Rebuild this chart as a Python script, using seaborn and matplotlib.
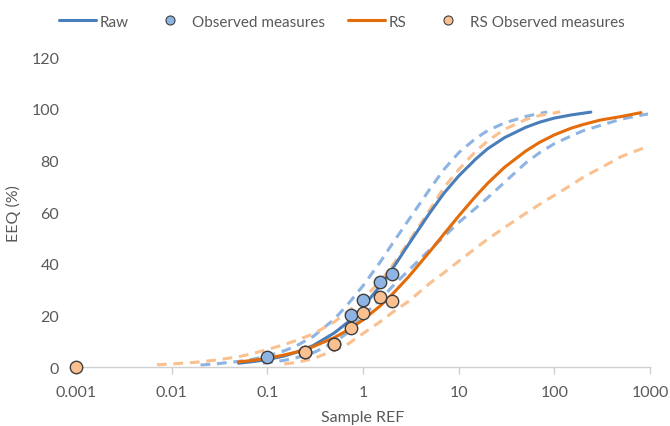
import numpy as np
import pandas as pd
import matplotlib
matplotlib.use("Agg")
import matplotlib.pyplot as plt
from matplotlib import font_manager
from matplotlib.lines import Line2D
import seaborn as sns

# ---------------- data ----------------
raw_x = [0.05, 0.07, 0.1, 0.15, 0.2, 0.3, 0.5, 0.7, 1, 1.5, 2, 3, 5, 7, 10, 15, 20, 30, 50, 70, 100, 150, 240]
raw_y = [1.5, 2.1, 2.9, 4.3, 5.7, 8.3, 13.2, 17.5, 23.3, 31.3, 37.7, 47.6, 59.8, 67.3, 74.0, 80.5, 84.5, 88.8, 92.8, 94.8, 96.4, 97.6, 98.7]

raw_up_x = [0.02, 0.03, 0.05, 0.07, 0.1, 0.15, 0.2, 0.3, 0.5, 0.7, 1, 1.5, 2, 3, 5, 7, 10, 15, 20, 30, 50, 70, 84]
raw_up_y = [0.8, 1.3, 2.2, 3.0, 4.3, 6.3, 8.2, 11.8, 18.5, 24.5, 31.5, 40.5, 47.5, 57, 69, 76.5, 83, 88.5, 91.5, 94.5, 97, 98.2, 98.7]

raw_lo_x = [0.09, 0.15, 0.2, 0.3, 0.5, 0.7, 1, 1.5, 2, 3, 5, 7, 10, 15, 20, 30, 50, 70, 100, 150, 200, 300, 500, 950]
raw_lo_y = [1.5, 2.6, 3.6, 5.5, 9.5, 13.5, 20, 26, 31, 37.5, 45.5, 50.5, 56, 61.5, 65.5, 71.5, 79, 83, 86.5, 89.5, 91.5, 93.5, 96, 98]

rs_x = [0.05, 0.07, 0.1, 0.15, 0.2, 0.3, 0.5, 0.7, 1, 1.5, 2, 3, 5, 7, 10, 15, 20, 30, 50, 70, 100, 150, 200, 300, 500, 800]
rs_y = [2.0, 2.6, 3.4, 4.7, 5.8, 7.9, 11.4, 14.4, 18.3, 23.6, 28.0, 35.0, 44.8, 51.5, 58.5, 66.1, 71.1, 77.3, 83.6, 87.0, 89.9, 92.5, 93.9, 95.6, 97.0, 98.5]

rs_up_x = [0.007, 0.01, 0.02, 0.03, 0.05, 0.07, 0.1, 0.15, 0.2, 0.3, 0.5, 0.7, 1, 1.5, 2, 3, 5, 7, 10, 15, 20, 30, 50, 70, 115]
rs_up_y = [0.9, 1.2, 2.0, 2.8, 4.0, 5.2, 6.8, 8.7, 10.3, 12.8, 17.5, 21.5, 26.5, 33, 39, 48.5, 61, 69.5, 76.5, 83.5, 87.5, 92, 95.8, 97.4, 98.8]

rs_lo_x = [0.15, 0.2, 0.3, 0.5, 0.7, 1, 1.5, 2, 3, 5, 7, 10, 15, 20, 30, 50, 70, 100, 150, 200, 300, 500, 880]
rs_lo_y = [1.2, 1.8, 3.2, 6.5, 9, 13, 17.5, 21, 25.5, 32.5, 36.5, 41, 46, 49.5, 54, 59.5, 63, 66.5, 70.5, 73.5, 77, 81.5, 85]

obs_x = [0.1, 0.25, 0.5, 0.75, 1, 1.5, 2]
obs_y = [4, 6, 9, 20, 26, 33, 36]

rs_obs_x = [0.001, 0.25, 0.5, 0.75, 1, 1.5, 2]
rs_obs_y = [0, 6, 9, 15, 21, 27, 25.5]

x_ticks = [0.001, 0.01, 0.1, 1, 10, 100, 1000]
x_tick_labels = ["0.001", "0.01", "0.1", "1", "10", "100", "1000"]
y_ticks = [0, 20, 40, 60, 80, 100, 120]

# ---------------- style ----------------
sns.set_style("white")
available = {f.name for f in font_manager.fontManager.ttflist}
fam = [f for f in ["Lato", "Open Sans", "DejaVu Sans"] if f in available]
plt.rcParams["font.family"] = fam + ["DejaVu Sans"]

BLUE = "#4A7EBB"
BLUE_L = "#8DB4E2"
ORANGE = "#E46C0A"
ORANGE_L = "#FAC090"
PT_BLUE = "#8EB4E3"
EDGE = "#3F3F3F"
TXT = "#595959"
FS = 11.5

fig = plt.figure(figsize=(6.7, 4.27), dpi=100)
ax = fig.add_axes([0.1134, 0.138, 0.857, 0.726])

def curve(x, y, color, dashed):
    df = pd.DataFrame({"x": x, "y": y})
    sns.lineplot(data=df, x="x", y="y", ax=ax, color=color, lw=2.2,
                 estimator=None, sort=True, legend=False)
    line = ax.lines[-1]
    if dashed:
        line.set_dashes([3.2, 2.2])
    line.set_solid_capstyle("round")
    return line

curve(raw_up_x, raw_up_y, BLUE_L, True)
curve(raw_lo_x, raw_lo_y, BLUE_L, True)
curve(rs_up_x, rs_up_y, ORANGE_L, True)
curve(rs_lo_x, rs_lo_y, ORANGE_L, True)
curve(raw_x, raw_y, BLUE, False)
curve(rs_x, rs_y, ORANGE, False)

sns.scatterplot(x=obs_x, y=obs_y, ax=ax, s=80, color=PT_BLUE,
                edgecolor=EDGE, linewidth=1.0, zorder=5, clip_on=False, legend=False)
sns.scatterplot(x=rs_obs_x, y=rs_obs_y, ax=ax, s=80, color=ORANGE_L,
                edgecolor=EDGE, linewidth=1.0, zorder=6, clip_on=False, legend=False)

ax.set_xscale("log")
ax.set_xlim(0.001, 1000)
ax.set_ylim(0, 120)
ax.set_xticks(x_ticks)
ax.set_xticklabels(x_tick_labels)
ax.minorticks_off()
ax.set_yticks(y_ticks)

for s in ["top", "right", "left"]:
    ax.spines[s].set_visible(False)
ax.spines["bottom"].set_color("#D0D0D0")
ax.spines["bottom"].set_linewidth(1.0)
ax.tick_params(axis="x", which="major", length=5, width=1.0, color="#D0D0D0",
               labelsize=FS, labelcolor=TXT, pad=8, direction="out", bottom=True)
ax.tick_params(axis="y", length=0, labelsize=FS, labelcolor=TXT, pad=12)

ax.set_xlabel("Sample REF", fontsize=FS, color=TXT)
ax.xaxis.set_label_coords(0.5, -0.138)
ax.set_ylabel("EEQ (%)", fontsize=FS, color=TXT)
ax.yaxis.set_label_coords(-0.095, 0.5)

handles = [
    Line2D([], [], color=BLUE, lw=2.2),
    Line2D([], [], ls="none", marker="o", markersize=6.5, markerfacecolor=PT_BLUE, markeredgecolor=EDGE, markeredgewidth=0.8),
    Line2D([], [], color=ORANGE, lw=2.2),
    Line2D([], [], ls="none", marker="o", markersize=6.5, markerfacecolor=ORANGE_L, markeredgecolor=EDGE, markeredgewidth=0.8),
]
labels = ["Raw", "Observed measures", "RS", "RS Observed measures"]
leg = fig.legend(handles, labels, loc="center", bbox_to_anchor=(0.51, 0.947), ncol=4,
                 frameon=False, fontsize=11, handlelength=2.4, handletextpad=0.25,
                 columnspacing=1.5, labelcolor=TXT)

fig.savefig("out.png", dpi=100)
